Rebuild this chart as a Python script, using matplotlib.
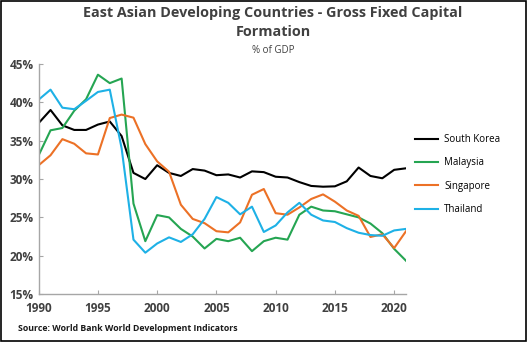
import numpy as np
import matplotlib.pyplot as plt
from matplotlib.patches import Rectangle

# Gross fixed capital formation, % of GDP
years = np.arange(1990, 2022)

south_korea = [37.3, 39.0, 37.0, 36.4, 36.4, 37.1, 37.5, 35.6, 30.8, 30.0,
               31.8, 30.8, 30.4, 31.3, 31.1, 30.5, 30.6, 30.2, 31.0, 30.9,
               30.3, 30.2, 29.6, 29.1, 29.0, 29.05, 29.7, 31.5, 30.4, 30.1,
               31.2, 31.4]
malaysia = [33.1, 36.35, 36.65, 38.9, 40.4, 43.6, 42.5, 43.1, 26.8, 21.9,
            25.3, 25.0, 23.5, 22.5, 20.95, 22.2, 21.9, 22.35, 20.6, 21.9,
            22.35, 22.1, 25.35, 26.4, 25.9, 25.8, 25.4, 25.0, 24.2, 22.95,
            20.9, 19.35]
singapore = [31.8, 33.1, 35.2, 34.6, 33.35, 33.2, 37.95, 38.4, 38.0, 34.55,
             32.3, 30.95, 26.65, 24.8, 24.25, 23.2, 23.05, 24.35, 27.95, 28.7,
             25.55, 25.35, 26.3, 27.4, 28.0, 27.05, 25.9, 25.2, 22.45, 22.8,
             21.0, 23.2]
thailand = [40.35, 41.65, 39.3, 39.1, 40.2, 41.35, 41.65, 34.0, 22.1, 20.4,
            21.6, 22.4, 21.8, 22.8, 24.8, 27.65, 26.9, 25.4, 26.4, 23.1,
            23.95, 25.65, 26.9, 25.35, 24.6, 24.4, 23.6, 23.0, 22.7, 22.6,
            23.3, 23.5]

series = [
    ("South Korea", south_korea, "#000000"),
    ("Malaysia", malaysia, "#25a552"),
    ("Singapore", singapore, "#ec7126"),
    ("Thailand", thailand, "#1eb1e6"),
]

text_grey = "#404040"
axis_grey = "#a6a6a6"

plt.rcParams["font.family"] = ["Open Sans", "DejaVu Sans"]

fig = plt.figure(figsize=(5.27, 3.42), dpi=100)
ax = fig.add_axes([0.0734, 0.140, 0.697, 0.673])

for name, values, color in series:
    ax.plot(years, values, color=color, linewidth=1.5, label=name)

ax.set_xlim(1990, 2021)
ax.set_ylim(15, 45)
ax.set_xticks(np.arange(1990, 2021, 5))
ax.set_yticks(np.arange(15, 46, 5))
ax.set_yticklabels([f"{v}%" for v in range(15, 46, 5)])

for side in ("top", "right"):
    ax.spines[side].set_visible(False)
for side in ("left", "bottom"):
    ax.spines[side].set_color(axis_grey)
    ax.spines[side].set_linewidth(1.0)

ax.tick_params(direction="in", length=3, color=axis_grey, labelsize=8.5,
               labelcolor=text_grey)
ax.tick_params(axis="x", pad=6)
for lbl in ax.get_xticklabels() + ax.get_yticklabels():
    lbl.set_fontweight("bold")

ax.legend(loc="center left", bbox_to_anchor=(1.014, 0.52), frameon=False,
          borderaxespad=0, fontsize=7, handlelength=2.37, handletextpad=0.62,
          labelspacing=1.27, labelcolor="#000000")

title_x = 0.518
fig.text(title_x, 0.962, "East Asian Developing Countries - Gross Fixed Capital",
         ha="center", va="center", fontsize=10.4, fontweight="bold",
         color=text_grey)
fig.text(title_x, 0.905, "Formation", ha="center", va="center", fontsize=10.4,
         fontweight="bold", color=text_grey)
fig.text(title_x, 0.853, "% of GDP", ha="center", va="center", fontsize=7,
         color=text_grey)
fig.text(0.034, 0.040, "Source: World Bank World Development Indicators",
         ha="left", va="center", fontsize=6.3, fontweight="bold",
         color="#1a1a1a")

# thin frame round the whole figure
fig.patches.append(Rectangle((0.001, 0.002), 0.997, 0.995,
                             transform=fig.transFigure, fill=False,
                             edgecolor="#000000", linewidth=1.2))

fig.savefig("out.png", dpi=100)
